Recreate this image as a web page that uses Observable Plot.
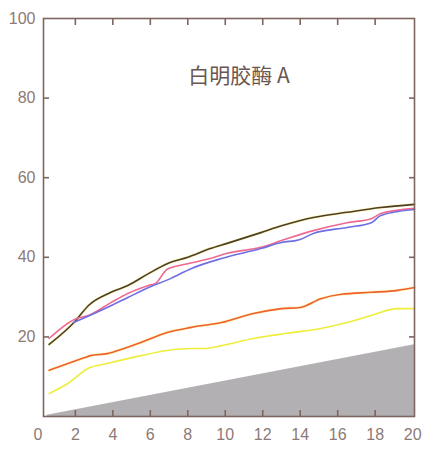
<!DOCTYPE html>
<html>
<head>
<meta charset="utf-8">
<script src="https://cdn.jsdelivr.net/npm/d3@7"></script>
<script src="https://cdn.jsdelivr.net/npm/@observablehq/plot@0.6"></script>
<style>
  html, body { margin: 0; padding: 0; background: #fff; }
  #chart { width: 424px; height: 455px; }
</style>
</head>
<body>
<div id="chart"></div>
<script>
const title = "白明胶酶 A";
const xTicks = [0, 2, 4, 6, 8, 10, 12, 14, 16, 18, 20];
const xInnerTicks = [2, 4, 6, 8, 10, 12, 14, 16, 18];
const yTicks = [20, 40, 60, 80, 100];
const yInnerTicks = [20, 40, 60, 80];

const darkX = [0.6, 2.0, 2.7, 3.9, 4.8, 5.9, 6.9, 8.0, 9.2, 10.1, 11.9, 13.0, 14.7, 16.5, 18.3, 20.1];
const darkY = [18.1, 24.0, 27.9, 31.2, 32.9, 35.9, 38.4, 40.0, 42.2, 43.5, 46.2, 47.9, 50.0, 51.3, 52.5, 53.3];

const pinkX = [0.6, 2.0, 2.7, 3.9, 4.8, 5.9, 6.3, 6.9, 8.0, 9.2, 10.1, 11.9, 13.0, 14.7, 16.5, 17.8, 18.3, 20.1];
const pinkY = [19.6, 24.5, 25.4, 28.6, 30.9, 32.9, 33.5, 37.0, 38.4, 39.7, 41.0, 42.5, 44.2, 46.7, 48.7, 49.7, 51.0, 52.3];

const blueX = [1.9, 3.7, 4.8, 5.9, 7.1, 8.2, 9.8, 11.9, 13.0, 14.0, 14.7, 16.5, 17.8, 18.3, 20.1];
const blueY = [23.6, 27.4, 29.9, 32.4, 34.7, 37.2, 39.7, 42.2, 43.7, 44.5, 46.0, 47.5, 48.7, 50.5, 52.0];

const orangeX = [0.6, 2.5, 2.8, 3.7, 4.6, 5.5, 6.9, 8.2, 9.8, 11.5, 13.0, 14.0, 15.1, 16.2, 17.8, 19.2, 20.1];
const orangeY = [11.6, 14.8, 15.3, 15.8, 17.1, 18.6, 21.1, 22.4, 23.6, 25.9, 27.1, 27.4, 29.6, 30.7, 31.2, 31.7, 32.4];

const yellowX = [0.6, 1.6, 2.7, 3.7, 5.5, 6.9, 8.2, 8.9, 9.8, 11.5, 13.3, 15.1, 16.5, 17.8, 19.2, 20.1];
const yellowY = [5.8, 8.3, 12.1, 13.3, 15.3, 16.6, 17.1, 17.1, 17.8, 19.6, 20.9, 22.1, 23.6, 25.4, 27.1, 27.1];

const areaX = [0.5, 20.1];
const areaY = [0.3, 18.0];

const seriesNames = ["dark", "pink", "blue", "orange", "yellow"];
const seriesColors = ["#4e3f22", "#ee6a90", "#6e6ee2", "#f0602c", "#eeee3a"];
const seriesXs = [darkX, pinkX, blueX, orangeX, yellowX];
const seriesYs = [darkY, pinkY, blueY, orangeY, yellowY];

const rows = [];
seriesNames.forEach((name, i) => {
  seriesXs[i].forEach((x, j) => rows.push({series: name, x, y: seriesYs[i][j]}));
});
const area = areaX.map((x, i) => ({x, y: areaY[i]}));

const axisColor = "#7d6660";
const labelColor = "#8c7a76";

const chart = Plot.plot({
  width: 424,
  height: 455,
  marginLeft: 43,
  marginRight: 10,
  marginTop: 18,
  marginBottom: 39,
  style: {fontFamily: "Liberation Sans, Arial, sans-serif", background: "#fff"},
  x: {domain: [0.3, 20.1], axis: null},
  y: {domain: [0, 100], axis: null},
  color: {domain: seriesNames, range: seriesColors},
  marks: [
    Plot.areaY(area, {x: "x", y: "y", fill: "#b3b0b3", curve: "linear"}),
    Plot.line(rows, {x: "x", y: "y", z: "series", stroke: "#f4e860", strokeWidth: 3, strokeOpacity: 0.35, curve: "monotone-x", filter: d => d.series === "dark" || d.series === "orange"}),
    Plot.line(rows, {x: "x", y: "y", z: "series", stroke: "series", strokeWidth: 1.6, curve: "monotone-x"}),
    Plot.frame({stroke: axisColor, strokeWidth: 1.6}),
    Plot.axisY(yInnerTicks, {anchor: "left", tickSize: -6, tickFormat: () => "", stroke: axisColor, strokeWidth: 1.6, label: null}),
    Plot.axisY(yInnerTicks, {anchor: "right", tickSize: -6, tickFormat: () => "", stroke: axisColor, strokeWidth: 1.6, label: null}),
    Plot.axisX(xInnerTicks, {anchor: "top", tickSize: -6, tickFormat: () => "", stroke: axisColor, strokeWidth: 1.6, label: null}),
    Plot.axisX(xInnerTicks, {anchor: "bottom", tickSize: -6, tickFormat: () => "", stroke: axisColor, strokeWidth: 1.6, label: null}),
    Plot.axisY(yTicks, {anchor: "left", tickSize: 0, tickPadding: 8, fontSize: 16, fill: labelColor, label: null}),
    Plot.axisX(xTicks, {anchor: "bottom", tickSize: 0, tickPadding: 12, fontSize: 16, fill: labelColor, label: null}),
    Plot.text([title], {frameAnchor: "top", dx: 10, dy: 58, text: d => d, fontSize: 21, fill: "#6a5650",
      fontFamily: "Noto Sans CJK SC, sans-serif", lineAnchor: "middle"})
  ]
});
document.getElementById("chart").appendChild(chart);
</script>
</body>
</html>
